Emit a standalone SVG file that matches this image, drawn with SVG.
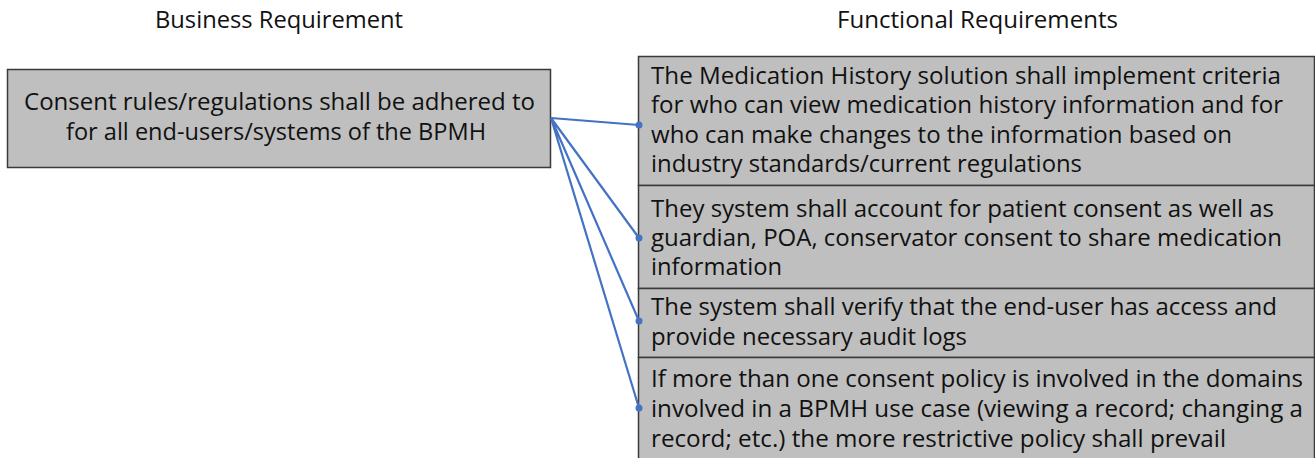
<svg xmlns="http://www.w3.org/2000/svg" width="1315" height="458" viewBox="0 0 1315 458">
<style>
text{font-family:"Open Sans","Liberation Sans",Arial,sans-serif;font-size:23px;fill:#111111}
.box{fill:#bfbfbf;stroke:#3a3a3a;stroke-width:1.5}
.c{stroke:#4472c4;stroke-width:2.2;fill:none}
.d{fill:#4472c4}
</style>
<rect width="1315" height="458" fill="#ffffff"/>
<g id="headers">
<text x="155" y="28" textLength="248" lengthAdjust="spacingAndGlyphs">Business Requirement</text>
<text x="837" y="28" textLength="281" lengthAdjust="spacingAndGlyphs">Functional Requirements</text>
</g>
<g id="business">
<rect class="box" x="7.5" y="69.5" width="543" height="98"/>
<text x="24" y="110" textLength="511" lengthAdjust="spacingAndGlyphs">Consent rules/regulations shall be adhered to</text>
<text x="66" y="140" textLength="420" lengthAdjust="spacingAndGlyphs">for all end-users/systems of the BPMH</text>
</g>
<g id="fr1">
<rect class="box" x="638.5" y="56.5" width="676" height="129"/>
<text x="651" y="84" textLength="630" lengthAdjust="spacingAndGlyphs">The Medication History solution shall implement criteria</text>
<text x="651" y="113" textLength="632" lengthAdjust="spacingAndGlyphs">for who can view medication history information and for</text>
<text x="651" y="143" textLength="581" lengthAdjust="spacingAndGlyphs">who can make changes to the information based on</text>
<text x="651" y="172" textLength="431" lengthAdjust="spacingAndGlyphs">industry standards/current regulations</text>
</g>
<g id="fr2">
<rect class="box" x="638.5" y="185.5" width="676" height="103"/>
<text x="651" y="217" textLength="623" lengthAdjust="spacingAndGlyphs">They system shall account for patient consent as well as</text>
<text x="651" y="246" textLength="631" lengthAdjust="spacingAndGlyphs">guardian, POA, conservator consent to share medication</text>
<text x="651" y="275" textLength="131" lengthAdjust="spacingAndGlyphs">information</text>
</g>
<g id="fr3">
<rect class="box" x="638.5" y="288.5" width="676" height="69"/>
<text x="651" y="315" textLength="626" lengthAdjust="spacingAndGlyphs">The system shall verify that the end-user has access and</text>
<text x="651" y="345" textLength="316" lengthAdjust="spacingAndGlyphs">provide necessary audit logs</text>
</g>
<g id="fr4">
<rect class="box" x="638.5" y="357.5" width="676" height="110"/>
<text x="651" y="387" textLength="652" lengthAdjust="spacingAndGlyphs">If more than one consent policy is involved in the domains</text>
<text x="651" y="417" textLength="652" lengthAdjust="spacingAndGlyphs">involved in a BPMH use case (viewing a record; changing a</text>
<text x="651" y="447" textLength="575" lengthAdjust="spacingAndGlyphs">record; etc.) the more restrictive policy shall prevail</text>
</g>
<g id="connectors">
<path class="c" d="M551 118 L639 125 M551 118 L639 238 M551 118 L639 321 M551 118 L639 408"/>
<circle class="d" cx="639" cy="125" r="3.5"/>
<circle class="d" cx="639" cy="238" r="3.5"/>
<circle class="d" cx="639" cy="321" r="3.5"/>
<circle class="d" cx="639" cy="408" r="3.5"/>
</g>
</svg>
